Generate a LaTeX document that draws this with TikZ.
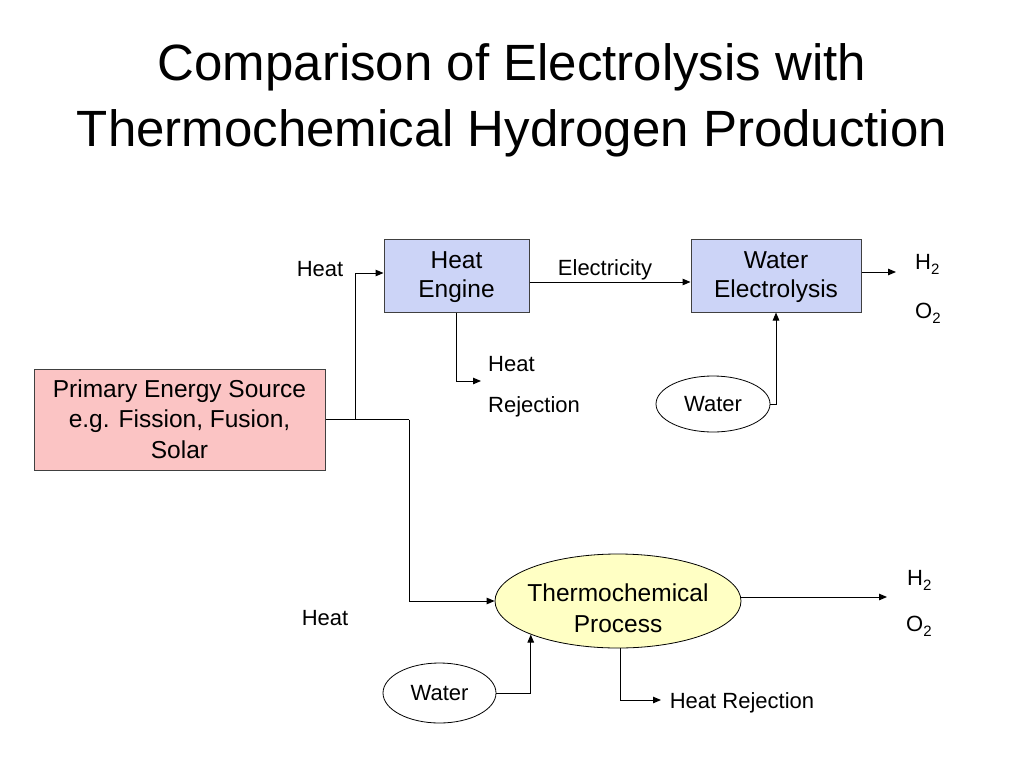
\documentclass[tikz,border=0pt]{standalone}
\usepackage{fontspec}
\setmainfont{Liberation Sans}
\usetikzlibrary{arrows.meta,shapes.geometric}
\definecolor{boxblue}{RGB}{204,212,247}
\definecolor{boxpink}{RGB}{251,196,196}
\definecolor{ellyellow}{RGB}{255,255,196}
\newcommand{\subtwo}{\raisebox{-5pt}{\fontsize{15}{15}\selectfont 2}}
\begin{document}
\begin{tikzpicture}[x=1pt,y=-1pt,
  box/.style={draw=black!75, line width=1pt, inner sep=0pt},
  boxtxt/.style={inner sep=0pt, align=center, font=\fontsize{24.5}{29.5}\selectfont},
  ell/.style={draw=black, line width=0.8pt, ellipse, inner xsep=-20pt, inner ysep=0pt, align=center},
  lbl/.style={font=\fontsize{22}{26}\selectfont, inner sep=0pt, anchor=base},
  ttl/.style={font=\fontsize{51}{60}\selectfont, inner sep=0pt, anchor=base},
  conn/.style={line width=1pt},
  arr/.style={conn, -{Triangle[length=8pt,width=6.5pt]}}
]
\useasboundingbox[fill=white] (0,0) rectangle (1024,768);

% title
\node[ttl] (t1) at (512,80) {Comparison of Electrolysis with};
\node[ttl] (t2) at (512,146) {Thermochemical Hydrogen Production};

% boxes
\node[box, fill=boxblue, minimum width=145pt, minimum height=73pt] (he) at (456.5,275.5) {};
\node[boxtxt] (het) at (456.5,277) {Heat\\Engine};
\node[box, fill=boxblue, minimum width=170pt, minimum height=73pt] (we) at (776,275.5) {};
\node[boxtxt] (wet) at (776,277) {Water\\Electrolysis};
\node[box, fill=boxpink, minimum width=291pt, minimum height=101pt] (pe) at (179.5,419.5) {};
\node[boxtxt, font=\fontsize{24.5}{30.5}\selectfont] (pet) at (179.5,419) {Primary Energy Source\\e.g. Fission, Fusion,\\Solar};

% ellipses
\node[ell, fill=white, minimum width=114pt, minimum height=56pt, font=\fontsize{22}{26}\selectfont] (w1) at (713,404) {Water};
\node[ell, fill=ellyellow, minimum width=246pt, minimum height=94pt] (tc) at (618,601) {};
\node[boxtxt, font=\fontsize{24.5}{31}\selectfont] (tct) at (618,608) {Thermochemical\\Process};
\node[ell, fill=white, minimum width=113pt, minimum height=60pt, font=\fontsize{22}{26}\selectfont] (w2) at (439.5,693) {Water};

% labels
\node[lbl] (lheat1) at (320,276) {Heat};
\node[lbl] (lelec) at (605,275) {Electricity};
\node[lbl, anchor=base west] (lhr1a) at (488,371) {Heat};
\node[lbl, anchor=base west] (lhr1b) at (488,412) {Rejection};
\node[lbl, anchor=base west] (lh2a) at (915,269) {H\subtwo};
\node[lbl, anchor=base west] (lo2a) at (915,318) {O\subtwo};
\node[lbl, anchor=base west] (lh2b) at (907,585) {H\subtwo};
\node[lbl, anchor=base west] (lo2b) at (906,631) {O\subtwo};
\node[lbl] (lheat2) at (325,625) {Heat};
\node[lbl] (lhr2) at (742,708) {Heat Rejection};

% junctions and free ends
\coordinate (ja) at (355,419.5);
\coordinate (jb) at (409,419.5);
\coordinate (hr1) at (481,381);
\coordinate (out1) at (896,272);
\coordinate (out2) at (887,597);
\coordinate (hr2) at (661,700);

% connectors
\draw[conn] (pe.east) -- (jb);
\draw[arr] (ja) |- ([yshift=2.5pt]he.west);
\draw[arr] (jb) |- (tc.west);
\draw[arr] ([yshift=-6.5pt]he.east) -- ([yshift=-6.5pt]we.west);
\draw[arr] ([yshift=3.5pt]we.east) -- (out1);
\draw[arr] (he.south) |- (hr1);
\draw[arr] (w1.east) -| (we.south);
\draw[arr] ([yshift=4pt]tc.east) -- (out2);
\draw[arr] (w2.east) -| (tc.south west);
\draw[arr] ([xshift=2pt]tc.south) |- (hr2);
\end{tikzpicture}
\end{document}
